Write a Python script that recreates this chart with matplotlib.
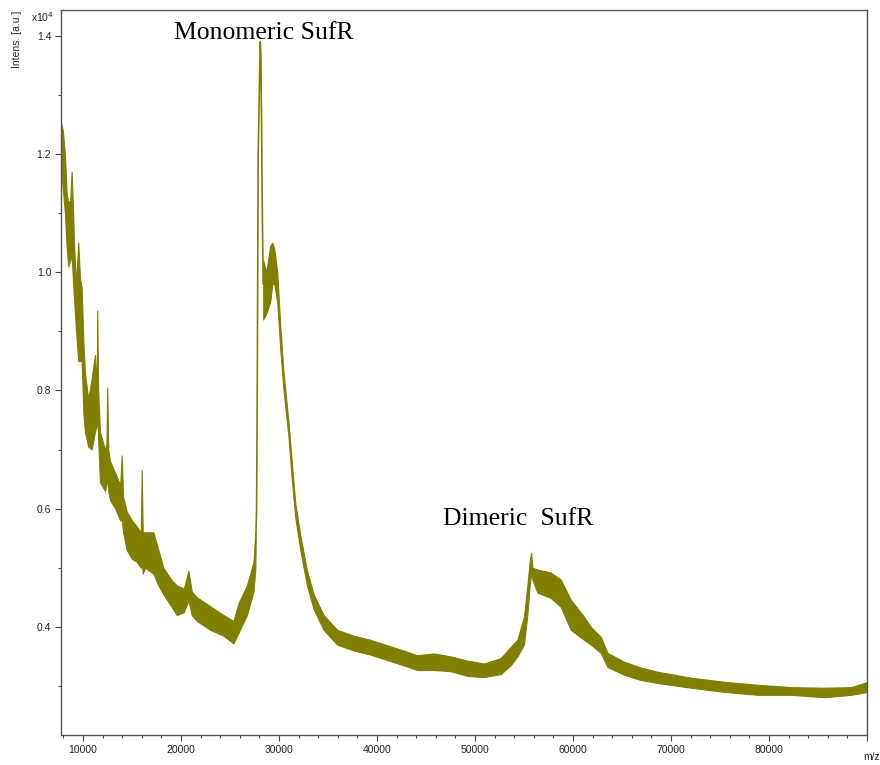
import matplotlib
matplotlib.use("Agg")
import matplotlib.pyplot as plt
from matplotlib.ticker import MultipleLocator, FuncFormatter

# spectrum envelope (m/z, upper and lower edge of the noise band, x10^4)
mz = [7800, 7950, 8160, 8350, 8498, 8700, 8845, 9000, 9111, 9300, 9520, 9700, 9867,
      10050, 10204, 10542, 10889, 11226, 11400, 11461, 11550, 11737, 12248, 12400,
      12483, 12580, 12759, 13300, 13800, 13955, 14100, 14466, 15000, 15488, 15900,
      15999, 16100, 16336, 17185, 17700, 18207, 19000, 19576, 20300, 20762, 21100,
      21620, 22979, 24339, 25361, 25872, 26730, 27405, 27600]
upper = [1.25, 1.24, 1.20, 1.13, 1.12, 1.12, 1.17, 1.10, 1.04, 0.98, 1.05, 0.99, 0.975,
         0.88, 0.83, 0.785, 0.82, 0.86, 0.80, 0.935, 0.80, 0.73, 0.70, 0.71,
         0.805, 0.70, 0.68, 0.66, 0.64, 0.69, 0.62, 0.595, 0.58, 0.57, 0.56,
         0.665, 0.56, 0.56, 0.56, 0.53, 0.50, 0.48, 0.47, 0.465, 0.495, 0.46,
         0.45, 0.435, 0.42, 0.41, 0.44, 0.47, 0.51, 0.56]
lower = [1.17, 1.14, 1.10, 1.04, 1.01, 1.02, 1.03, 0.98, 0.95, 0.90, 0.85, 0.85, 0.85,
         0.76, 0.73, 0.705, 0.70, 0.73, 0.74, 0.76, 0.72, 0.645, 0.63, 0.64,
         0.66, 0.63, 0.615, 0.60, 0.58, 0.58, 0.56, 0.53, 0.515, 0.51, 0.50,
         0.51, 0.49, 0.50, 0.49, 0.47, 0.455, 0.435, 0.42, 0.425, 0.445, 0.42,
         0.41, 0.395, 0.385, 0.372, 0.39, 0.42, 0.46, 0.50]

# sharp monomer peak (thin trace)
peak_mz = [27600, 27720, 27800, 27880, 27950, 28020, 28089, 28150, 28230, 28290, 28340, 28396]
peak_int = [0.52, 0.60, 0.85, 1.20, 1.26, 1.33, 1.39, 1.37, 1.25, 1.12, 1.05, 0.98]

# right part: shoulder, decay, dimer and tail
mz2 = [28396, 28703, 29111, 29316, 29520, 29827, 30133, 30471, 30982, 31329, 31666,
       32177, 32862, 33536, 34558, 35927, 37624, 39331, 42704, 44104, 45801, 47507,
       49214, 50911, 52617, 53639, 54324, 54999, 55346, 55581, 55734, 55857, 56368,
       57727, 58749, 59771, 61131, 61815, 62837, 63522, 65218, 66925, 68632, 72035,
       75439, 78843, 82245, 85649, 88377, 90083]
upper2 = [1.02, 1.00, 1.045, 1.05, 1.04, 1.00, 0.91, 0.83, 0.745, 0.675, 0.61,
          0.555, 0.495, 0.455, 0.42, 0.395, 0.385, 0.378, 0.36, 0.352, 0.355, 0.35,
          0.343, 0.338, 0.347, 0.366, 0.378, 0.417, 0.47, 0.51, 0.525, 0.50, 0.497,
          0.492, 0.48, 0.446, 0.417, 0.40, 0.383, 0.356, 0.341, 0.331, 0.324, 0.314,
          0.307, 0.302, 0.298, 0.297, 0.298, 0.307]
lower2 = [0.92, 0.93, 0.95, 0.98, 0.98, 0.95, 0.87, 0.80, 0.72, 0.645, 0.585,
          0.53, 0.47, 0.43, 0.395, 0.37, 0.36, 0.353, 0.335, 0.327, 0.327, 0.325,
          0.317, 0.315, 0.32, 0.335, 0.35, 0.37, 0.42, 0.47, 0.49, 0.48, 0.458,
          0.449, 0.434, 0.395, 0.378, 0.37, 0.356, 0.332, 0.319, 0.310, 0.305, 0.297,
          0.290, 0.285, 0.285, 0.281, 0.285, 0.290]

olive = "#7f7f00"
fig = plt.figure(figsize=(8.8, 7.65), dpi=100)
ax = fig.add_axes([0.0693, 0.0392, 0.9159, 0.948])

ax.fill_between(mz, lower, upper, color=olive, lw=0.8, edgecolor=olive)
ax.fill_between(mz2, lower2, upper2, color=olive, lw=0.8, edgecolor=olive)
ax.plot(peak_mz, peak_int, color=olive, lw=1.2)

ax.set_xlim(7760, 90000)
ax.set_ylim(0.217, 1.444)

ax.xaxis.set_major_locator(MultipleLocator(10000))
ax.xaxis.set_minor_locator(MultipleLocator(2000))
ax.yaxis.set_major_locator(MultipleLocator(0.2))
ax.yaxis.set_minor_locator(MultipleLocator(0.1))
ax.tick_params(which="major", length=4, width=0.8, color="#444444",
               labelsize=7.5, labelcolor="#222222", pad=3)
ax.tick_params(which="minor", length=2.5, width=0.8, color="#444444")
ax.xaxis.set_major_formatter(FuncFormatter(lambda v, p: "" if v > 85000 else f"{v:.0f}"))
ax.yaxis.set_major_formatter(FuncFormatter(lambda v, p: f"{v:.1f}"))
for lbl in ax.get_xticklabels() + ax.get_yticklabels():
    lbl.set_family("Liberation Sans")
for s in ax.spines.values():
    s.set_color("#555555")
    s.set_linewidth(1.0)

fig.text(0.019, 0.986, "Intens. [a.u.]", rotation=90, ha="center", va="top",
         fontsize=7.5, family="Liberation Sans", color="#222222")
fig.text(0.035, 0.978, r"x10$^4$", ha="left", va="center",
         fontsize=7.5, family="Liberation Sans", color="#222222")
fig.text(0.9995, 0.004, "m/z", ha="right", va="bottom",
         fontsize=7.5, family="Liberation Sans", color="#222222")

ax.text(28500, 1.405, "Monomeric SufR", ha="center", va="center",
        fontsize=18.5, family="Liberation Serif")
ax.text(54400, 0.583, "Dimeric  SufR", ha="center", va="center",
        fontsize=18.5, family="Liberation Serif")

fig.savefig("out.png", dpi=100)
